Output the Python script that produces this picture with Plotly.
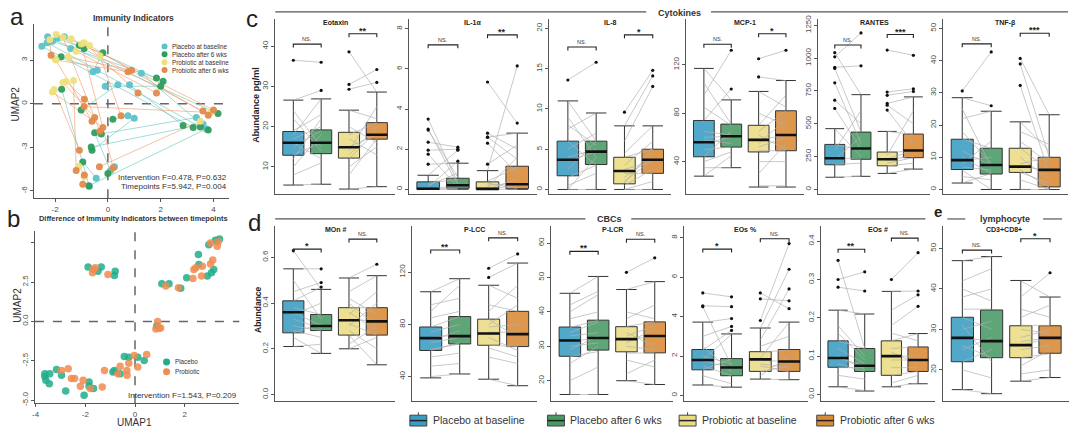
import plotly.graph_objects as go

W, H = 1080, 430
FONT = "Liberation Sans, Arial, sans-serif"

# ======================= DATA =======================
# ---- panel a: UMAP of immunity indicators, subject pairs (baseline -> after 6 wks)
a_plac_base_x = [-2.5, -2.28, -1.65, -2.1, -1.4, -0.57, -0.4, 1.27, 0.38, 0.82, 3.35, 3.6, 3.73, 0.76, 1.0, 0.25, -0.44, -0.7, -1.9, -0.1, -2.3, 0.1]
a_plac_base_y = [3.95, 4.6, 4.6, 4.3, 3.8, 2.2, 2.3, 2.1, 1.3, 1.3, -0.95, -1.4, -1.74, -0.83, -1.0, -4.33, -5.12, -5.7, 4.5, 1.2, 4.2, -4.6]
a_plac_after_x = [3.23, 4.17, 2.09, 1.84, -1.08, -0.19, -1.77, 3.8, -1.01, 2.85, -0.25, -0.63, -0.72, 0.19, -0.6, 0.0, -0.95, -1.75, -0.9, 2.0, 3.5, -0.5]
a_plac_after_y = [-1.63, -0.68, 1.54, 1.76, 4.0, 3.5, 3.23, -1.8, -0.43, -1.5, -2.08, -2.98, -5.64, -1.06, -3.2, -4.79, -4.0, 1.0, 3.8, 1.2, -1.6, -2.0]
a_prob_base_x = [-1.96, -1.39, -0.7, -2.2, -1.96, -1.5, -1.2, -0.9, -1.58, -1.7, -2.03, -2.1, -0.3, 3.5, -0.9, -1.1, -1.7, -1.0, -2.0, -1.3, 3.9]
a_prob_base_y = [4.76, 4.47, 4.0, 4.4, 3.0, 3.2, 3.6, 4.2, 1.53, 1.45, 0.97, 0.8, 3.3, -1.2, -5.0, -4.3, 4.55, 4.1, 3.1, 1.6, -0.6]
a_prob_after_x = [3.6, 4.0, 3.8, -2.15, 0.76, 0.9, 1.84, 1.14, -0.89, -0.5, -1.08, -0.19, 0.5, -0.32, -0.95, -0.89, -0.3, 0.2, -0.6, -1.2, -0.9]
a_prob_after_y = [-0.5, -0.43, -0.8, 3.34, 2.2, 2.3, 0.74, 0.74, 0.3, -0.95, -3.2, -1.63, -0.83, -4.33, -5.53, -4.9, -1.9, -4.4, -1.2, -4.6, -0.2]

# ---- panel b: UMAP of differences between timepoints
b_plac_x = [-1.89, -1.49, -1.36, -0.8, -0.83, 1.08, 1.37, 1.84, 2.08, 2.55, 2.57, 2.91, 3.08, 3.17, 2.97, 3.24, 3.4, 0.88,
            -0.43, -0.25, 0.11, 0.37, -0.83, -0.6, -3.63, -3.63, -3.43, -3.59, -3.45, -3.16, -2.96, -2.79, -1.85, -1.85, -1.67, -2.05, -0.89]
b_plac_y = [3.45, 3.19, 3.45, 3.19, 2.92, 2.39, 2.39, 2.1, 2.77, 4.24, 3.61, 2.88, 3.09, 3.3, 4.87, 5.15, 5.23, -0.27,
            -2.23, -2.27, -2.27, -2.48, -3.11, -3.32, -3.32, -3.5, -3.32, -3.74, -3.95, -3.05, -3.42, -4.41, -3.84, -4.12, -4.26, -4.68, -3.21]
b_prob_x = [-1.69, -1.71, -1.09, -1.6, 1.24, 1.75, 2.33, 2.37, 2.45, 2.71, 2.68, 3.04, 3.13, 3.04, 3.31, 3.35, 0.91, 0.97, 0.84, 1.03,
            -0.03, 0.47, 0.11, -0.25, -0.6, -0.33, -0.32, -0.69, -1.23, -2.96, -2.69, -2.56, -2.43, -2.09, -2.2, -1.8, -1.32]
b_prob_y = [3.3, 3.09, 2.98, 3.4, 2.25, 2.14, 2.73, 3.3, 3.4, 3.5, 2.88, 3.65, 3.89, 4.98, 4.77, 5.05, 0.0, -0.44, -0.48, -0.42,
            -2.16, -2.1, -2.9, -2.65, -2.84, -3.11, -3.42, -3.32, -3.11, -3.11, -3.0, -3.63, -3.63, -3.74, -4.12, -4.26, -4.16]

group_labels = ["Placebo at baseline", "Placebo after 6 wks", "Probiotic at baseline", "Probiotic after 6 wks"]

# ---- box stats per group: [lower whisker, q1, median, q3, upper whisker]
# ---- subject values: placebo baseline/after, probiotic baseline/after (paired)
eotaxin_box = [[5.5, 12.9, 16.0, 18.8, 26.6], [5.7, 13.3, 16.0, 19.2, 26.9], [4.5, 12.2, 14.9, 18.6, 24.1], [5.1, 16.9, 18.0, 21.0, 28.6]]
eotaxin_pb = [36.5, 26.6, 22, 19, 18, 16, 15, 13, 12, 10, 8, 5.5, 24, 17]
eotaxin_pa = [36.0, 29.0, 14, 23, 26.9, 12, 19, 16, 22, 18, 11, 5.7, 15, 20]
eotaxin_rb = [38.6, 30.5, 29.3, 24.1, 20, 18, 15, 14, 12, 10, 8, 4.5, 17, 13]
eotaxin_ra = [28.6, 34.2, 31, 22, 16, 21, 18, 25, 19, 15, 17, 5.1, 13, 20]

il1a_box = [[0, 0, 0.03, 0.37, 0.7], [0, 0.05, 0.2, 0.55, 1.3], [0, 0, 0.02, 0.37, 0.93], [0, 0.03, 0.25, 1.15, 2.8]]
il1a_pb = [3.5, 3.0, 2.95, 2.35, 1.95, 1.75, 1.25, 0.7, 0.3, 0.1, 0, 0, 0, 0.2]
il1a_pa = [0.3, 0.2, 0.6, 2.1, 2.0, 0.1, 1.3, 1.95, 0.5, 1.4, 0.2, 0, 0.05, 0.8]
il1a_rb = [5.35, 2.8, 2.6, 2.6, 2.3, 1.25, 0.93, 0.4, 0.2, 0, 0, 0, 0.1, 0.3]
il1a_ra = [3.3, 2.0, 1.5, 2.8, 0.8, 2.2, 6.15, 1.1, 0.3, 0.5, 0, 0.2, 1.6, 0.05]

il8_box = [[0, 1.7, 3.7, 6.0, 11.0], [0, 3.1, 4.7, 6.0, 9.5], [0, 0.7, 2.3, 4.0, 7.9], [0, 2.0, 3.7, 5.0, 7.9]]
il8_pb = [13.6, 11.0, 9, 7.5, 6, 5, 4, 3.5, 2.5, 1.5, 0.5, 0, 0, 8]
il8_pa = [15.8, 6, 4, 9.5, 3, 7, 5, 4.7, 6, 3, 2, 0, 4, 5.5]
il8_rb = [9.6, 7.9, 6, 4.5, 4, 3, 2.5, 2, 1.5, 1, 0.5, 0, 0, 0.8]
il8_ra = [14.8, 14.1, 12.8, 7.9, 5, 6, 3.5, 2, 4, 3.7, 2.5, 0, 1, 5]

mcp1_box = [[28, 44, 56, 74, 117], [35, 52, 61, 71, 91], [19, 48, 58, 70, 98], [19, 49, 62, 82, 107]]
mcp1_pb = [117, 95, 85, 74, 65, 58, 55, 50, 44, 40, 35, 28, 105, 60]
mcp1_pa = [91, 132, 70, 100, 62, 55, 60, 52, 65, 48, 35, 45, 71, 61]
mcp1_rb = [125, 110, 98, 80, 70, 62, 58, 55, 49, 40, 30, 20, 65, 52]
mcp1_ra = [132, 107, 85, 70, 95, 50, 62, 75, 49, 40, 55, 20, 82, 60]

rantes_box = [[93, 188, 238, 343, 463], [100, 230, 312, 437, 722], [122, 180, 230, 285, 442], [155, 242, 297, 422, 705]]
rantes_pb = [1042, 1010, 930, 922, 812, 680, 617, 463, 343, 240, 190, 93, 300, 230]
rantes_pa = [722, 1192, 942, 437, 350, 500, 310, 250, 300, 230, 200, 100, 600, 400]
rantes_rb = [1062, 742, 717, 655, 642, 605, 442, 285, 230, 200, 180, 122, 260, 220]
rantes_ra = [1022, 767, 747, 705, 500, 350, 420, 290, 300, 242, 200, 155, 600, 260]

tnfb_box = [[2, 6.2, 9.1, 15.6, 28.5], [0, 4.8, 7.6, 12.8, 24.3], [0, 5.3, 7.1, 12.8, 21.0], [0, 0.8, 6.1, 10.0, 23.2]]
tnfb_pb = [30.6, 28.5, 22, 18, 15.7, 12, 10, 9, 7, 6, 4, 2, 25, 8]
tnfb_pa = [42.7, 26, 24.3, 8, 12.8, 7.5, 5, 10, 6, 0, 3, 5, 7, 15]
tnfb_rb = [40.7, 39, 32.3, 21, 15, 12.8, 10, 7, 6, 5.3, 3, 0, 18, 8]
tnfb_ra = [23.2, 10, 5, 12, 8, 6, 3, 6.1, 0.8, 2, 0, 0, 14, 10]

mon_box = [[0.21, 0.27, 0.36, 0.41, 0.55], [0.18, 0.28, 0.30, 0.35, 0.46], [0.20, 0.26, 0.325, 0.38, 0.51], [0.13, 0.26, 0.32, 0.38, 0.52]]
mon_pb = [0.63, 0.55, 0.45, 0.41, 0.38, 0.36, 0.33, 0.3, 0.27, 0.25, 0.21, 0.5, 0.35, 0.28]
mon_pa = [0.46, 0.55, 0.49, 0.47, 0.35, 0.30, 0.29, 0.28, 0.31, 0.18, 0.22, 0.33, 0.40, 0.25]
mon_rb = [0.51, 0.45, 0.4, 0.38, 0.35, 0.33, 0.31, 0.28, 0.26, 0.22, 0.2, 0.42, 0.3, 0.36]
mon_ra = [0.57, 0.52, 0.3, 0.38, 0.45, 0.32, 0.26, 0.2, 0.13, 0.3, 0.25, 0.35, 0.4, 0.28]

plcc_box = [[39, 60, 69.5, 78, 105], [42, 65, 71, 86, 115], [38, 64, 73, 84, 110], [33, 63, 72.5, 90, 127]]
plcc_pb = [105, 95, 85, 78, 74, 70, 66, 61, 55, 48, 40, 90, 68, 60]
plcc_pa = [115, 100, 90, 86, 80, 72, 70, 65, 58, 50, 42, 110, 75, 66]
plcc_rb = [123, 116, 110, 95, 84, 78, 74, 70, 64, 55, 38, 90, 62, 80]
plcc_ra = [134, 127, 100, 90, 70, 80, 74, 60, 63, 50, 33, 110, 55, 95]

plcr_box = [[16, 27.1, 31.7, 35.6, 45.4], [16, 28.9, 32.4, 37.6, 50.3], [20, 28.4, 32.1, 35.7, 46.5], [18.9, 28.1, 33.0, 37.1, 48.8]]
plcr_pb = [45.4, 42, 38, 35.5, 33, 31.5, 30, 27, 25, 20, 16, 40, 29, 34]
plcr_pa = [50.3, 46, 40, 37.5, 34, 32.3, 31, 28.5, 30, 24, 16, 45, 33, 37]
plcr_rb = [51.5, 46.5, 40, 35.8, 34, 32, 31, 28, 26, 22, 20, 38, 30, 33]
plcr_ra = [55.7, 48.8, 38, 37.1, 30, 33, 35, 28.1, 24, 26, 18.9, 42, 29, 36]

eosp_box = [[0.53, 1.3, 1.8, 2.33, 3.72], [0.42, 1.0, 1.42, 1.87, 3.12], [0.83, 1.22, 1.83, 2.22, 3.42], [0.8, 1.22, 1.72, 2.33, 3.72]]
eosp_pb = [5.2, 4.55, 4.5, 3.7, 3.0, 2.3, 1.8, 1.75, 1.5, 1.3, 1.0, 0.53, 2.5, 2.0]
eosp_pa = [5.0, 4.5, 1.5, 3.9, 3.5, 3.3, 3.1, 1.4, 1.0, 1.85, 0.6, 0.42, 1.2, 1.6]
eosp_rb = [5.2, 4.9, 3.8, 3.4, 2.8, 2.2, 1.9, 1.8, 1.5, 1.2, 1.0, 0.83, 2.5, 1.6]
eosp_ra = [4.4, 4.8, 7.7, 6.4, 5.4, 2.3, 3.7, 1.7, 1.2, 1.5, 2.0, 0.8, 3.0, 1.4]

eosn_box = [[0.02, 0.071, 0.095, 0.14, 0.22], [0.009, 0.06, 0.075, 0.12, 0.21], [0.02, 0.05, 0.10, 0.14, 0.269], [0.028, 0.06, 0.09, 0.124, 0.159]]
eosn_pb = [0.35, 0.30, 0.28, 0.22, 0.18, 0.14, 0.12, 0.095, 0.08, 0.07, 0.05, 0.02, 0.16, 0.10]
eosn_pa = [0.12, 0.32, 0.27, 0.21, 0.10, 0.12, 0.08, 0.075, 0.06, 0.07, 0.04, 0.01, 0.09, 0.065]
eosn_rb = [0.30, 0.269, 0.22, 0.18, 0.14, 0.12, 0.10, 0.09, 0.07, 0.05, 0.03, 0.02, 0.16, 0.11]
eosn_ra = [0.37, 0.27, 0.26, 0.23, 0.159, 0.125, 0.10, 0.09, 0.07, 0.06, 0.05, 0.03, 0.14, 0.08]

cd38_box = [[15.1, 22, 27.9, 33, 47], [14.1, 23, 27.1, 34.8, 48], [17.2, 23, 26.1, 30.9, 42.1], [18.1, 24.1, 27.9, 30.9, 38]]
cd38_pb = [47, 42, 38, 35, 33, 30, 28, 26, 22, 20, 15.1, 40, 25, 31]
cd38_pa = [48, 45, 40, 35, 30, 32, 27, 23, 25, 18, 14.1, 37, 28, 22]
cd38_rb = [42, 38, 35, 31, 28, 26, 25, 23, 21, 19, 17.2, 33, 27, 30]
cd38_ra = [38, 44, 33, 31, 30, 28, 26, 24, 25, 20, 18.1, 36, 28, 29]

# significance labels (placebo pair, probiotic pair)
sig_eotaxin = ["NS.", "**"]; sig_il1a = ["NS.", "**"]; sig_il8 = ["NS.", "*"]
sig_mcp1 = ["NS.", "*"]; sig_rantes = ["NS.", "***"]; sig_tnfb = ["NS.", "***"]
sig_mon = ["*", "NS."]; sig_plcc = ["**", "NS."]; sig_plcr = ["**", "NS."]
sig_eosp = ["*", "NS."]; sig_eosn = ["**", "NS."]; sig_cd38 = ["NS.", "*"]

# ======================= STYLE =======================
BOX_FILL = ["rgba(58,156,194,0.88)", "rgba(72,154,100,0.88)", "rgba(234,220,132,0.88)", "rgba(217,138,54,0.88)"]
BOX_SOLID = ["#3A9CC2", "#489A64", "#EADC84", "#D98A36"]
A_COL = ["#5CC3C8", "#2E9D5C", "#EEE07C", "#E38A4B"]
B_COL = ["#1FAE8A", "#F18B4F"]
AXC = "#555555"
TICKC = "#4d4d4d"

fig = go.Figure()
layout_axes = {}
annotations = []
shapes = []
counter = [0]


def add_axes(l, r, t, b, xr, yr, xt=None, yt=None, xticktext=None, yticktext=None, show_x=True):
    counter[0] += 1
    n = counter[0]
    s = "" if n == 1 else str(n)
    xa = dict(domain=[l / W, r / W], range=xr, anchor="y" + s, showline=True, linecolor=AXC, linewidth=1,
              showgrid=False, zeroline=False, fixedrange=True,
              tickfont=dict(size=8, color=TICKC, family=FONT))
    if show_x:
        xa.update(ticks="outside", ticklen=3, tickcolor=AXC, tickvals=xt, ticktext=xticktext)
    else:
        xa.update(ticks="", showticklabels=False)
    ya = dict(domain=[1 - b / H, 1 - t / H], range=yr, anchor="x" + s, showline=True, linecolor=AXC, linewidth=1,
              showgrid=False, zeroline=False, ticks="outside", ticklen=3, tickcolor=AXC, tickangle=-90,
              tickvals=yt, ticktext=yticktext, fixedrange=True,
              tickfont=dict(size=8, color=TICKC, family=FONT))
    layout_axes["xaxis" + s] = xa
    layout_axes["yaxis" + s] = ya
    return "x" + s, "y" + s


def txt(x, y, s, size=8, color="#333333", bold=False, xanchor="center", yanchor="middle", angle=0):
    annotations.append(dict(x=x / W, y=1 - y / H, xref="paper", yref="paper",
                            text=("<b>%s</b>" % s) if bold else s, showarrow=False,
                            font=dict(size=size, color=color, family=FONT),
                            xanchor=xanchor, yanchor=yanchor, textangle=angle))


def pline(x0, y0, x1, y1, color="#555555", width=1.2):
    shapes.append(dict(type="line", xref="paper", yref="paper", x0=x0 / W, x1=x1 / W,
                       y0=1 - y0 / H, y1=1 - y1 / H, line=dict(color=color, width=width)))


# ======================= PANEL a =======================
xa, ya = add_axes(31, 227, 20, 197, [-2.8, 4.6], [-6.5, 5.5], xt=[-2, 0, 2, 4], yt=[-6, -3, 0, 3],
                  xticktext=["-2", "0", "2", "4"], yticktext=["-6", "-3", "0", "3"])
shapes.append(dict(type="line", xref=xa, yref=ya + " domain", x0=0, x1=0, y0=0, y1=1,
                   line=dict(color="#666666", width=1.5, dash="dash"), layer="below"))
shapes.append(dict(type="line", xref=xa + " domain", yref=ya, x0=0, x1=1, y0=0, y1=0,
                   line=dict(color="#666666", width=1.5, dash="dash"), layer="below"))


def pair_lines(bx, by, ax_, ay_):
    xs, ys = [], []
    for i in range(len(bx)):
        xs += [bx[i], ax_[i], None]
        ys += [by[i], ay_[i], None]
    return xs, ys


lx, ly = pair_lines(a_plac_base_x, a_plac_base_y, a_plac_after_x, a_plac_after_y)
fig.add_trace(go.Scatter(x=lx, y=ly, mode="lines", line=dict(color="rgba(95,195,190,0.65)", width=0.9),
                         xaxis=xa, yaxis=ya, hoverinfo="skip", showlegend=False))
lx, ly = pair_lines(a_prob_base_x, a_prob_base_y, a_prob_after_x, a_prob_after_y)
fig.add_trace(go.Scatter(x=lx, y=ly, mode="lines", line=dict(color="rgba(240,150,100,0.65)", width=0.9),
                         xaxis=xa, yaxis=ya, hoverinfo="skip", showlegend=False))
for (px_, py_), c in zip([(a_plac_base_x, a_plac_base_y), (a_plac_after_x, a_plac_after_y),
                          (a_prob_base_x, a_prob_base_y), (a_prob_after_x, a_prob_after_y)], A_COL):
    fig.add_trace(go.Scatter(x=px_, y=py_, mode="markers", marker=dict(color=c, size=7, opacity=0.95, line=dict(width=0)),
                             xaxis=xa, yaxis=ya, hoverinfo="skip", showlegend=False))

txt(14, 13, "a", size=24, color="#222", yanchor="middle")
txt(131, 14, "Immunity Indicators", size=8.5, bold=True)
txt(13, 101, "UMAP2", size=10, color="#333", angle=-90)
for i, lab in enumerate(group_labels):
    yy = 43 + i * 8
    shapes.append(dict(type="circle", xref="paper", yref="paper", x0=(162 - 3) / W, x1=(162 + 3) / W,
                       y0=1 - (yy + 3) / H, y1=1 - (yy - 3) / H, fillcolor=A_COL[i], line=dict(width=0)))
    txt(167, yy, lab, size=6.3, color="#333", xanchor="left")
txt(227, 176, "Intervention F=0.478, P=0.632", size=8, color="#333", xanchor="right")
txt(227, 185, "Timepoints F=5.942, P=0.004", size=8, color="#333", xanchor="right")

# ======================= PANEL b =======================
xb, yb = add_axes(32, 237, 230, 405, [-4.03, 4.2], [-5.2, 5.75], xt=[-4, -2, 0, 2], yt=[-5, -2.5, 0, 2.5, 5],
                  xticktext=["-4", "-2", "0", "2"], yticktext=["-5.0", "-2.5", "0.0", "2.5", ""])
shapes.append(dict(type="line", xref=xb, yref=yb + " domain", x0=0, x1=0, y0=0, y1=1,
                   line=dict(color="#666666", width=1.5, dash="dash"), layer="below"))
shapes.append(dict(type="line", xref=xb + " domain", yref=yb, x0=0, x1=1, y0=0, y1=0,
                   line=dict(color="#666666", width=1.5, dash="dash"), layer="below"))
fig.add_trace(go.Scatter(x=b_plac_x, y=b_plac_y, mode="markers", marker=dict(color=B_COL[0], size=7.5, opacity=0.85, line=dict(width=0)),
                         xaxis=xb, yaxis=yb, hoverinfo="skip", showlegend=False))
fig.add_trace(go.Scatter(x=b_prob_x, y=b_prob_y, mode="markers", marker=dict(color=B_COL[1], size=7.5, opacity=0.85, line=dict(width=0)),
                         xaxis=xb, yaxis=yb, hoverinfo="skip", showlegend=False))
txt(11, 218, "b", size=24, color="#222")
txt(131, 218, "Difference of Immunity Indicators between timepoints", size=7.4, bold=True)
txt(15, 305, "UMAP2", size=10, color="#333", angle=-90)
txt(132, 424.5, "UMAP1", size=10, color="#333")
for i, lab in enumerate(["Placebo", "Probiotic"]):
    yy = 363 + i * 10
    shapes.append(dict(type="circle", xref="paper", yref="paper", x0=(164 - 3.5) / W, x1=(164 + 3.5) / W,
                       y0=1 - (yy + 3.5) / H, y1=1 - (yy - 3.5) / H, fillcolor=B_COL[i], line=dict(width=0)))
    txt(170, yy, lab, size=6.3, color="#333", xanchor="left")
txt(237, 397, "Intervention F=1.543, P=0.209", size=8, color="#333", xanchor="right")

# ======================= BOX PANELS =======================
POS = [1, 2, 3, 4]


def fmt_ticks(vals, dec):
    return [("%." + str(dec) + "f") % v for v in vals]


def box_panel(title, l, r, t, b, yr, yt, dec, stats, pb, pa, rb, ra, sig, levels, title_y):
    xa_, ya_ = add_axes(l, r, t, b, [0.35, 4.65], yr, yt=yt, yticktext=fmt_ticks(yt, dec), show_x=False)
    span = yr[1] - yr[0]
    xs, ys = [], []
    for b0, a0 in zip(pb, pa):
        xs += [POS[0], POS[1], None]; ys += [b0, a0, None]
    for b0, a0 in zip(rb, ra):
        xs += [POS[2], POS[3], None]; ys += [b0, a0, None]
    fig.add_trace(go.Scatter(x=xs, y=ys, mode="lines", line=dict(color="rgba(175,175,175,0.85)", width=0.8),
                             xaxis=xa_, yaxis=ya_, hoverinfo="skip", showlegend=False))
    for k in range(4):
        lo, q1, md, q3, up = stats[k]
        fig.add_trace(go.Box(x=[POS[k]], lowerfence=[lo], q1=[q1], median=[md], q3=[q3], upperfence=[up],
                             width=0.76, whiskerwidth=0.95, fillcolor=BOX_FILL[k],
                             line=dict(color="#333333", width=1), boxpoints=False,
                             xaxis=xa_, yaxis=ya_, hoverinfo="skip", showlegend=False))
    mx, my = [], []
    for k in range(4):
        mx += [POS[k] - 0.38, POS[k] + 0.38, None]
        my += [stats[k][2], stats[k][2], None]
    fig.add_trace(go.Scatter(x=mx, y=my, mode="lines", line=dict(color="#111111", width=2.6),
                             xaxis=xa_, yaxis=ya_, hoverinfo="skip", showlegend=False))
    ox, oy = [], []
    for k, vals in enumerate([pb, pa, rb, ra]):
        lo, up = stats[k][0], stats[k][4]
        for v in vals:
            if v > up + 1e-9 * span or v < lo - 1e-9 * span:
                ox.append(POS[k]); oy.append(v)
    fig.add_trace(go.Scatter(x=ox, y=oy, mode="markers", marker=dict(color="#111111", size=3.2),
                             xaxis=xa_, yaxis=ya_, hoverinfo="skip", showlegend=False))
    d = span * 3.5 / (b - t)
    for j, (p0, p1) in enumerate([(POS[0], POS[1]), (POS[2], POS[3])]):
        lv = levels[j]
        fig.add_trace(go.Scatter(x=[p0, p0, p1, p1], y=[lv - d, lv, lv, lv - d], mode="lines",
                                 line=dict(color="#222222", width=1.1),
                                 xaxis=xa_, yaxis=ya_, hoverinfo="skip", showlegend=False))
        lab = sig[j]
        if lab.startswith("NS"):
            annotations.append(dict(x=(p0 + p1) / 2, y=lv, xref=xa_, yref=ya_, text=lab, showarrow=False,
                                    font=dict(size=5.5, color="#333", family=FONT), yanchor="bottom", yshift=0))
        else:
            annotations.append(dict(x=(p0 + p1) / 2, y=lv, xref=xa_, yref=ya_, text="<b>%s</b>" % lab, showarrow=False,
                                    font=dict(size=9, color="#222", family=FONT), yanchor="bottom", yshift=-4))
    if title:
        txt((l + r) / 2, title_y, title, size=7, bold=True, color="#222")


CT, CB = 15, 193
DT, DB = 225, 403
box_panel("Eotaxin", 273, 393, CT, CB, [3.2, 46.8], [10, 20, 30, 40], 0, eotaxin_box,
          eotaxin_pb, eotaxin_pa, eotaxin_rb, eotaxin_ra, sig_eotaxin, [40.5, 43.1], 19)
box_panel("IL-1α", 407, 535, CT, CB, [-0.25, 8.5], [0, 2, 4, 6, 8], 0, il1a_box,
          il1a_pb, il1a_pa, il1a_rb, il1a_ra, sig_il1a, [7.2, 7.7], 19)
box_panel("IL-8", 548, 670, CT, CB, [-0.6, 21.2], [0, 5, 10, 15, 20], 0, il8_box,
          il8_pb, il8_pa, il8_rb, il8_ra, sig_il8, [17.7, 19.2], 19)
box_panel("MCP-1", 685, 803, CT, CB, [13, 158], [40, 80, 120], 0, mcp1_box,
          mcp1_pb, mcp1_pa, mcp1_rb, mcp1_ra, sig_mcp1, [137, 145.7], 19)
box_panel("RANTES", 817, 930, CT, CB, [-37, 1300], [0, 250, 500, 750, 1000, 1250], 0, rantes_box,
          rantes_pb, rantes_pa, rantes_rb, rantes_ra, sig_rantes, [1100, 1180], 19)
box_panel("TNF-β", 943, 1068, CT, CB, [-1.5, 53], [0, 10, 20, 30, 40, 50], 0, tnfb_box,
          tnfb_pb, tnfb_pa, tnfb_rb, tnfb_ra, sig_tnfb, [45.2, 48.5], 19)

box_panel("MOn #", 273, 393, DT, DB, [-0.03, 0.738], [0.0, 0.2, 0.4, 0.6], 1, mon_box,
          mon_pb, mon_pa, mon_rb, mon_ra, sig_mon, [0.636, 0.68], 229)
box_panel("P-LCC", 410, 535, DT, DB, [21, 155.5], [40, 80, 120], 0, plcc_box,
          plcc_pb, plcc_pa, plcc_rb, plcc_ra, sig_plcc, [137, 146.3], 229)
box_panel("P-LCR", 550, 672, DT, DB, [14, 65], [20, 30, 40, 50, 60], 0, plcr_box,
          plcr_pb, plcr_pa, plcr_rb, plcr_ra, sig_plcr, [57.6, 61.1], 229)
box_panel("EOs %", 683, 807, DT, DB, [-0.3, 8.6], [0, 2, 4, 6, 8], 0, eosp_box,
          eosp_pb, eosp_pa, eosp_rb, eosp_ra, sig_eosp, [7.42, 7.95], 229)
box_panel("EOs #", 820, 935, DT, DB, [-0.018, 0.44], [0.0, 0.1, 0.2, 0.3, 0.4], 1, eosn_box,
          eosn_pb, eosn_pa, eosn_rb, eosn_ra, sig_eosn, [0.379, 0.408], 229)
box_panel("", 943, 1069, DT, DB, [12.2, 55.6], [20, 30, 40, 50], 0, cd38_box,
          cd38_pb, cd38_pa, cd38_rb, cd38_ra, sig_cd38, [49.6, 52.4], 229)

# ---- headers
txt(250, 15, "c", size=24, color="#222")
pline(273, 8, 645, 8)
txt(678, 9, "Cytokines", size=9, bold=True, color="#333")
pline(710, 8, 1068, 8)
txt(253, 102, "Abundance pg/ml", size=9, bold=True, color="#222", angle=-90)

txt(252, 222, "d", size=24, color="#222")
pline(273, 218, 584, 218)
txt(608, 218, "CBCs", size=9, bold=True, color="#333")
pline(630, 218, 925, 218)
txt(255, 310, "Abundance", size=8.5, bold=True, color="#222", angle=-90)

txt(938, 210, "e", size=15, bold=True, color="#222")
pline(947, 218, 965, 218)
txt(1005, 218, "lymphocyte", size=9, bold=True, color="#333")
pline(1043, 218, 1062, 218)
txt(1004, 229, "CD3+CD8+", size=7, bold=True, color="#222")

# ---- bottom legend
leg_x = [408, 546, 678, 816]
for i, lab in enumerate(group_labels):
    x0 = leg_x[i]
    shapes.append(dict(type="rect", xref="paper", yref="paper", x0=x0 / W, x1=(x0 + 17) / W,
                       y0=1 - 428 / H, y1=1 - 417 / H, fillcolor=BOX_SOLID[i], line=dict(color="#444", width=1)))
    pline(x0, 422.5, x0 + 17, 422.5, color="#222", width=1.5)
    pline(x0 + 8.5, 414, x0 + 8.5, 417, color="#444", width=1)
    txt(x0 + 21, 422, lab, size=10.5, color="#333", xanchor="left")

fig.update_layout(width=W, height=H, margin=dict(l=0, r=0, t=0, b=0),
                  paper_bgcolor="white", plot_bgcolor="white", showlegend=False,
                  boxmode="overlay", font=dict(family=FONT),
                  annotations=annotations, shapes=shapes, **layout_axes)
fig.write_html("out.html", config={"displayModeBar": False},
               post_script="document.body.style.margin='0';document.body.style.overflow='hidden';")
